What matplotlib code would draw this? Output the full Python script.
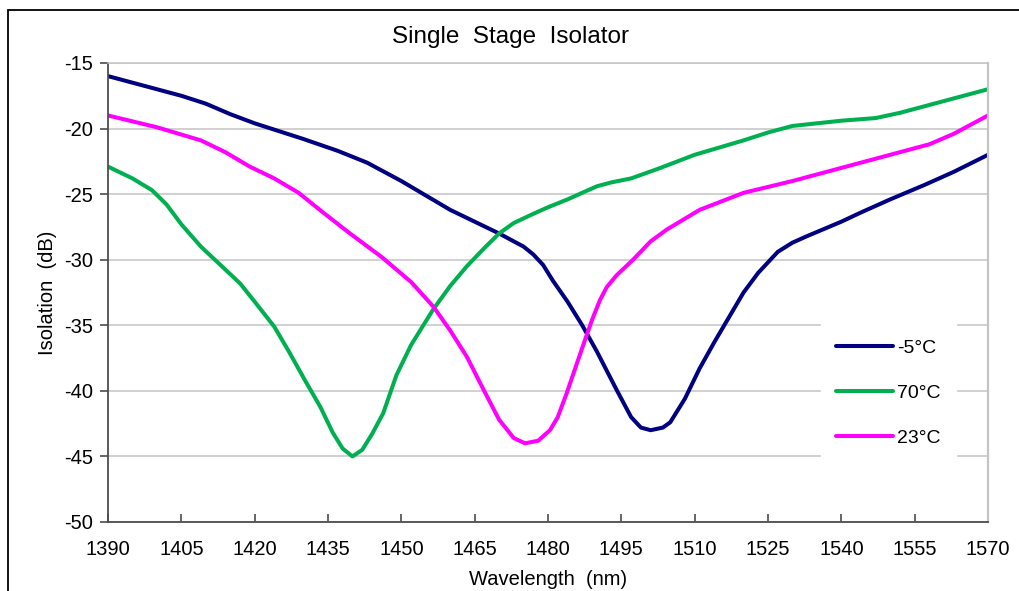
import matplotlib
matplotlib.use('Agg')
import matplotlib.pyplot as plt
from matplotlib.patches import Rectangle

plt.rcParams['font.family'] = ['Liberation Sans', 'DejaVu Sans']
plt.rcParams['axes.unicode_minus'] = False

# -5 C curve
wl_cold = [1390, 1400, 1405, 1410, 1415, 1420, 1430, 1437, 1443, 1450, 1455, 1460, 1465, 1470,
           1475, 1477, 1479, 1481, 1484, 1487, 1490, 1494, 1497, 1499, 1501, 1503.5, 1505, 1508, 1511,
           1514, 1517, 1520, 1523, 1527, 1530, 1533, 1540, 1544, 1550, 1557, 1563, 1570]
iso_cold = [-16.0, -17.0, -17.5, -18.1, -18.9, -19.6, -20.8, -21.7, -22.6, -24.0, -25.1, -26.2, -27.1, -28.0,
            -29.0, -29.6, -30.4, -31.6, -33.2, -35.0, -37.0, -39.9, -42.0, -42.8, -43.0, -42.8, -42.4, -40.6, -38.3,
            -36.3, -34.4, -32.5, -31.0, -29.4, -28.7, -28.2, -27.1, -26.4, -25.4, -24.3, -23.3, -22.0]

# 70 C curve
wl_hot = [1390, 1395, 1399, 1402, 1405, 1409, 1413, 1417, 1420, 1424, 1427, 1430.6,
          1433.4, 1436, 1438, 1440, 1442, 1444, 1446.3, 1449, 1452, 1456.5, 1460, 1463.4,
          1467, 1470, 1473, 1477, 1480, 1484, 1487, 1490, 1493, 1497, 1503, 1510, 1520, 1525,
          1530, 1535, 1540, 1547, 1552, 1558, 1564, 1570]
iso_hot = [-22.9, -23.8, -24.7, -25.8, -27.3, -29.0, -30.4, -31.8, -33.2, -35.1, -37.0, -39.4,
           -41.2, -43.2, -44.4, -45.0, -44.5, -43.3, -41.7, -38.8, -36.5, -33.8, -32.0, -30.5,
           -29.1, -28.0, -27.2, -26.5, -26.0, -25.4, -24.9, -24.4, -24.1, -23.8, -23.0, -22.0, -20.9, -20.3,
           -19.8, -19.6, -19.4, -19.2, -18.8, -18.2, -17.6, -17.0]

# 23 C curve
wl_room = [1390, 1400, 1409, 1414, 1419, 1424, 1429, 1434, 1439.5, 1446, 1452, 1456.6,
           1460, 1463.4, 1466.8, 1470, 1473, 1475.3, 1478, 1480.4, 1482, 1483.8, 1487.3, 1489, 1490.6,
           1492, 1494, 1497.4, 1501, 1504.3, 1511, 1520, 1530, 1544, 1550, 1558, 1563, 1570]
iso_room = [-19.0, -19.9, -20.9, -21.8, -22.9, -23.8, -24.9, -26.4, -28.0, -29.8, -31.7, -33.6,
            -35.4, -37.4, -39.9, -42.2, -43.6, -44.0, -43.8, -43.0, -42.0, -40.2, -36.4, -34.6, -33.1,
            -32.1, -31.2, -30.0, -28.6, -27.7, -26.2, -24.9, -24.0, -22.6, -22.0, -21.2, -20.4, -19.0]

labels = ['-5°C', '70°C', '23°C']
colors = ['#000080', '#00B050', '#FF00FF']
xticks = list(range(1390, 1571, 15))
yticks = list(range(-50, -14, 5))

fig = plt.figure(figsize=(10.2, 5.91), dpi=100)
ax = fig.add_axes([108 / 1020, 1 - 522 / 591, 880 / 1020, 459 / 591])

series = [(wl_cold, iso_cold), (wl_hot, iso_hot), (wl_room, iso_room)]
for (x, y), lab, c in zip(series, labels, colors):
    ax.plot(x, y, color=c, lw=2.9, label=lab, solid_joinstyle='round', solid_capstyle='round')

ax.set_xlim(1390, 1570)
ax.set_ylim(-50, -15)
ax.set_xticks(xticks)
ax.set_yticks(yticks)
ax.grid(axis='y', color='#C4C4C4', lw=1.1)
ax.set_axisbelow(True)

for s in ['left', 'bottom']:
    ax.spines[s].set_color('#4D4D4D')
    ax.spines[s].set_linewidth(1.3)
ax.spines['right'].set_color('#C4C4C4')
ax.spines['right'].set_linewidth(1.6)
ax.spines['top'].set_color('#C4C4C4')
ax.spines['top'].set_linewidth(1.1)

ax.tick_params(axis='x', direction='in', length=6, width=1.2, color='#4D4D4D',
               labelsize=14.5, pad=13)
ax.tick_params(axis='y', direction='out', length=6, width=1.2, color='#4D4D4D',
               labelsize=14.5, pad=5)

ax.set_xlabel('Wavelength  (nm)', fontsize=14.5, labelpad=8)
ax.set_ylabel('Isolation  (dB)', fontsize=14.5, labelpad=5)
fig.text(511 / 1020, 1 - 37 / 591, 'Single  Stage  Isolator', fontsize=17.5,
         ha='center', va='center')

leg = ax.legend(loc='center left', bbox_to_anchor=(0.799, 0.281), frameon=True,
                fontsize=14, handlelength=2.9, handletextpad=0.2, labelspacing=1.4,
                borderpad=0.8, fancybox=False)
leg.get_frame().set_edgecolor('white')
leg.get_frame().set_facecolor('white')
leg.get_frame().set_alpha(1)

fig.add_artist(Rectangle((8 / 1020, -0.1), 1.2, 1.1 - 10 / 591, transform=fig.transFigure,
                         fill=False, edgecolor='black', lw=1.3))

fig.savefig('out.png', dpi=100)
